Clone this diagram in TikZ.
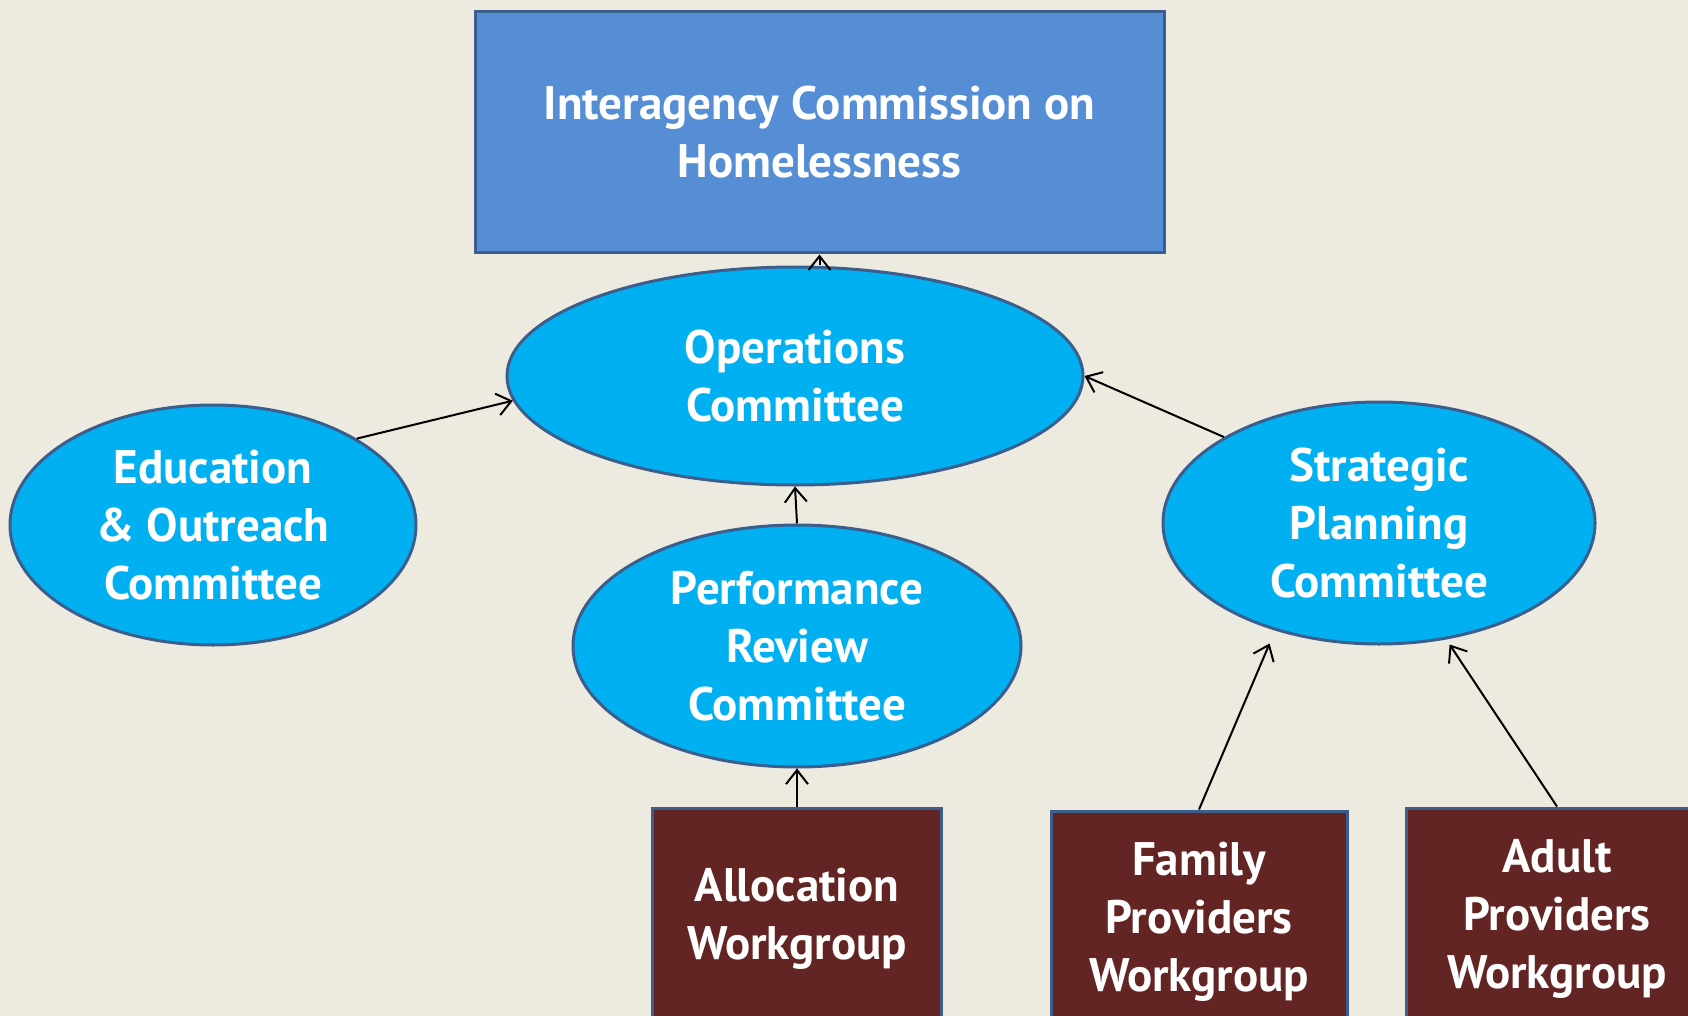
\documentclass[tikz,border=0pt]{standalone}
\usepackage{fontspec}
\setmainfont{PT Sans}
\usetikzlibrary{shapes.geometric,arrows.meta}

\definecolor{bgcream}{HTML}{EDEBE0}
\definecolor{topblue}{HTML}{558ED5}
\definecolor{cyanfill}{HTML}{00B0F0}
\definecolor{edgeblue}{HTML}{3B5E8C}
\definecolor{darkred}{HTML}{632523}

\tikzset{
  boxtext/.style={text=white,align=center,font=\bfseries\fontsize{47}{58}\selectfont},
  topbox/.style={boxtext,draw=edgeblue,line width=3pt,fill=topblue,rectangle,inner sep=0pt,minimum width=689pt,minimum height=241pt},
  committee/.style={boxtext,draw=edgeblue,line width=3pt,fill=cyanfill,ellipse,inner sep=0pt},
  workgroup/.style={boxtext,draw=edgeblue,line width=3pt,fill=darkred,rectangle,inner sep=0pt,minimum height=222pt},
  link/.style={-{Straight Barb[length=14pt,width=22pt]},line width=2pt,black}
}

\begin{document}
\begin{tikzpicture}[x=1pt,y=-1pt]
    \fill[bgcream](0,0)rectangle(1688,1016);
    \clip(0,0)rectangle(1688,1016);

    \node[topbox](ich) at (819.5,132.5){Interagency Commission on\\Homelessness};

    \node[committee,minimum width=576pt,minimum height=218pt](ops) at (795,376){Operations\\Committee};
    \node[committee,minimum width=406pt,minimum height=240pt](edu) at (213,525){Education\\\& Outreach\\Committee};
    \node[committee,minimum width=448pt,minimum height=242pt](perf) at (797,646){Performance\\Review\\Committee};
    \node[committee,minimum width=432pt,minimum height=242pt](strat) at (1379,523){Strategic\\Planning\\Committee};

    \node[workgroup,minimum width=289pt](alloc) at (797,919){Allocation\\Workgroup};
    \node[workgroup,minimum width=296pt](family) at (1199,922){Family\\Providers\\Workgroup};
    \node[workgroup,minimum width=302pt](adult) at (1557,919){Adult\\Providers\\Workgroup};

    \draw[link](ops.north -| ich.south)--(ich.south);
    \draw[link](edu.31)--(ops.185);
    \draw[link](strat.151)--(ops.east);
    \draw[link](perf.north)--(ops.south);
    \draw[link](alloc.north)--(perf.south);
    \draw[link,shorten >=14pt](family.north)--(strat.226);
    \draw[link,shorten >=6pt](adult.north)--(strat.300);
\end{tikzpicture}
\end{document}
